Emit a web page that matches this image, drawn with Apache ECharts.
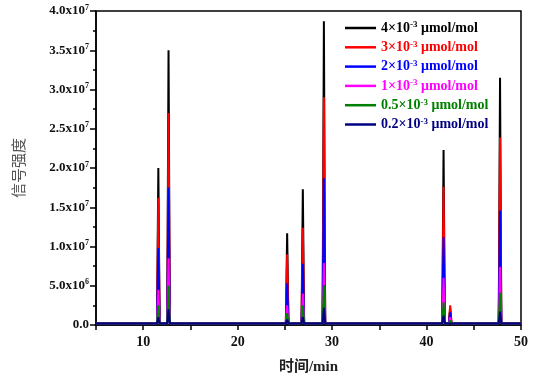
<!DOCTYPE html>
<html><head><meta charset="utf-8">
<script src="https://cdn.jsdelivr.net/npm/echarts@6/dist/echarts.min.js"></script>
<style>html,body{margin:0;padding:0;background:#fff}#c{width:550px;height:381px}</style>
</head><body><div id="c"></div>
<script>
// Data
const seriesNames = ['4×10-3 μmol/mol','3×10-3 μmol/mol','2×10-3 μmol/mol','1×10-3 μmol/mol','0.5×10-3 μmol/mol','0.2×10-3 μmol/mol'];
const legendMantissa = ['4','3','2','1','0.5','0.2'];
const colors = ['#000000','#ff0000','#0000ff','#ff00ff','#008000','#000080'];
const peakTimes = [11.6, 12.68, 25.24, 26.9, 29.13, 41.8, 42.5, 47.78];
const h4  = [2.0e7, 3.5e7, 1.17e7, 1.73e7, 3.87e7, 2.23e7, 2.2e6, 3.15e7];
const h3  = [1.62e7, 2.7e7, 0.9e7, 1.24e7, 2.9e7, 1.76e7, 2.5e6, 2.39e7];
const h2  = [0.98e7, 1.75e7, 5.3e6, 7.8e6, 1.87e7, 1.12e7, 1.6e6, 1.46e7];
const h1  = [4.5e6, 8.5e6, 2.5e6, 4.0e6, 7.9e6, 6.0e6, 1.0e6, 7.4e6];
const h05 = [2.5e6, 5.0e6, 1.5e6, 2.5e6, 5.1e6, 2.9e6, 6.0e5, 4.1e6];
const h02 = [1.0e6, 2.0e6, 7.0e5, 1.0e6, 2.2e6, 1.2e6, 3.0e5, 1.7e6];
const baselines = [2e5, 2.5e5, 2e5, 2e5, 2e5, 2e5];
const xRange = [5, 50];
const xTickLabels = ['10','20','30','40','50'];
const yTickLabels = {0:'0.0', 5e6:'5.0x10|6', 1e7:'1.0x10|7', 1.5e7:'1.5x10|7', 2e7:'2.0x10|7', 2.5e7:'2.5x10|7', 3e7:'3.0x10|7', 3.5e7:'3.5x10|7', 4e7:'4.0x10|7'};

const heights = [h4, h3, h2, h1, h05, h02];
const halfWidth = 0.14;
function buildLine(hs, base) {
  const pts = [[xRange[0], base]];
  peakTimes.forEach((t, i) => {
    pts.push([t - halfWidth, base]);
    pts.push([t, hs[i]]);
    pts.push([t + halfWidth, base]);
  });
  pts.push([xRange[1], base]);
  return pts;
}

const FONT = "'Liberation Serif','Times New Roman',serif";
const chart = echarts.init(document.getElementById('c'), null, {renderer: 'canvas'});

const legendRich = {};
colors.forEach((c, i) => {
  legendRich['n' + i] = {color: c, fontFamily: FONT, fontWeight: 'bold', fontSize: 14, lineHeight: 15};
  legendRich['s' + i] = {color: c, fontFamily: FONT, fontWeight: 'bold', fontSize: 9, lineHeight: 15, verticalAlign: 'top', padding: [0, 0, 6, 0]};
});

chart.setOption({
  animation: false,
  backgroundColor: '#fff',
  grid: {left: 96, right: 29, top: 11, bottom: 56, show: true, borderColor: '#000', borderWidth: 1.5},
  legend: {
    orient: 'vertical', left: 340, top: 15.5, itemGap: 4.3,
    itemWidth: 31, itemHeight: 2.5, icon: 'rect',
    data: seriesNames.map((n, i) => ({name: n, itemStyle: {color: colors[i]}})),
    formatter: function (name) {
      const i = seriesNames.indexOf(name);
      return '{n' + i + '|' + legendMantissa[i] + '×10}{s' + i + '|-3}{n' + i + '| μmol/mol}';
    },
    textStyle: {fontFamily: FONT, fontWeight: 'bold', fontSize: 14, rich: legendRich}
  },
  xAxis: {
    type: 'value', min: xRange[0], max: xRange[1], interval: 5,
    name: '时间/min', nameLocation: 'middle', nameGap: 35,
    nameTextStyle: {fontFamily: "'Liberation Serif','Noto Sans CJK SC',serif", fontWeight: 'bold', fontSize: 15, color: '#222'},
    axisLine: {lineStyle: {color: '#000', width: 1.5}},
    axisTick: {length: 5, lineStyle: {color: '#000', width: 1.5}},
    splitLine: {show: false},
    axisLabel: {
      margin: 10, fontFamily: FONT, fontWeight: 'bold', fontSize: 14, color: '#111',
      formatter: function (v) { const s = String(v); return xTickLabels.indexOf(s) >= 0 ? s : ''; }
    }
  },
  yAxis: {
    type: 'value', min: 0, max: 4e7, interval: 5e6,
    name: '信号强度', nameLocation: 'middle', nameGap: 70,
    nameTextStyle: {fontFamily: "'Noto Sans CJK SC',sans-serif", fontSize: 15, color: '#555'},
    axisLine: {lineStyle: {color: '#000', width: 1.5}},
    axisTick: {length: 6, lineStyle: {color: '#000', width: 1.5}},
    minorTick: {show: true, splitNumber: 2, length: 3, lineStyle: {color: '#000', width: 1.5}},
    splitLine: {show: false},
    axisLabel: {
      margin: 7, fontFamily: FONT, fontWeight: 'bold', fontSize: 13, color: '#111',
      formatter: function (v) {
        const lab = yTickLabels[v];
        if (lab === undefined) return '';
        const parts = lab.split('|');
        if (parts.length === 1) return '{m|' + parts[0] + '}';
        return '{m|' + parts[0] + '}{e|' + parts[1] + '}';
      },
      rich: {
        m: {fontFamily: FONT, fontWeight: 'bold', fontSize: 13, color: '#111', lineHeight: 15},
        e: {fontFamily: FONT, fontWeight: 'bold', fontSize: 8, color: '#111', lineHeight: 15, verticalAlign: 'top', padding: [0, 0, 6, 0]}
      }
    }
  },
  series: seriesNames.map((n, i) => ({
    name: n, type: 'line', showSymbol: false, symbol: 'none',
    lineStyle: {color: colors[i], width: 2},
    itemStyle: {color: colors[i]},
    data: buildLine(heights[i], baselines[i])
  }))
});
</script></body></html>
